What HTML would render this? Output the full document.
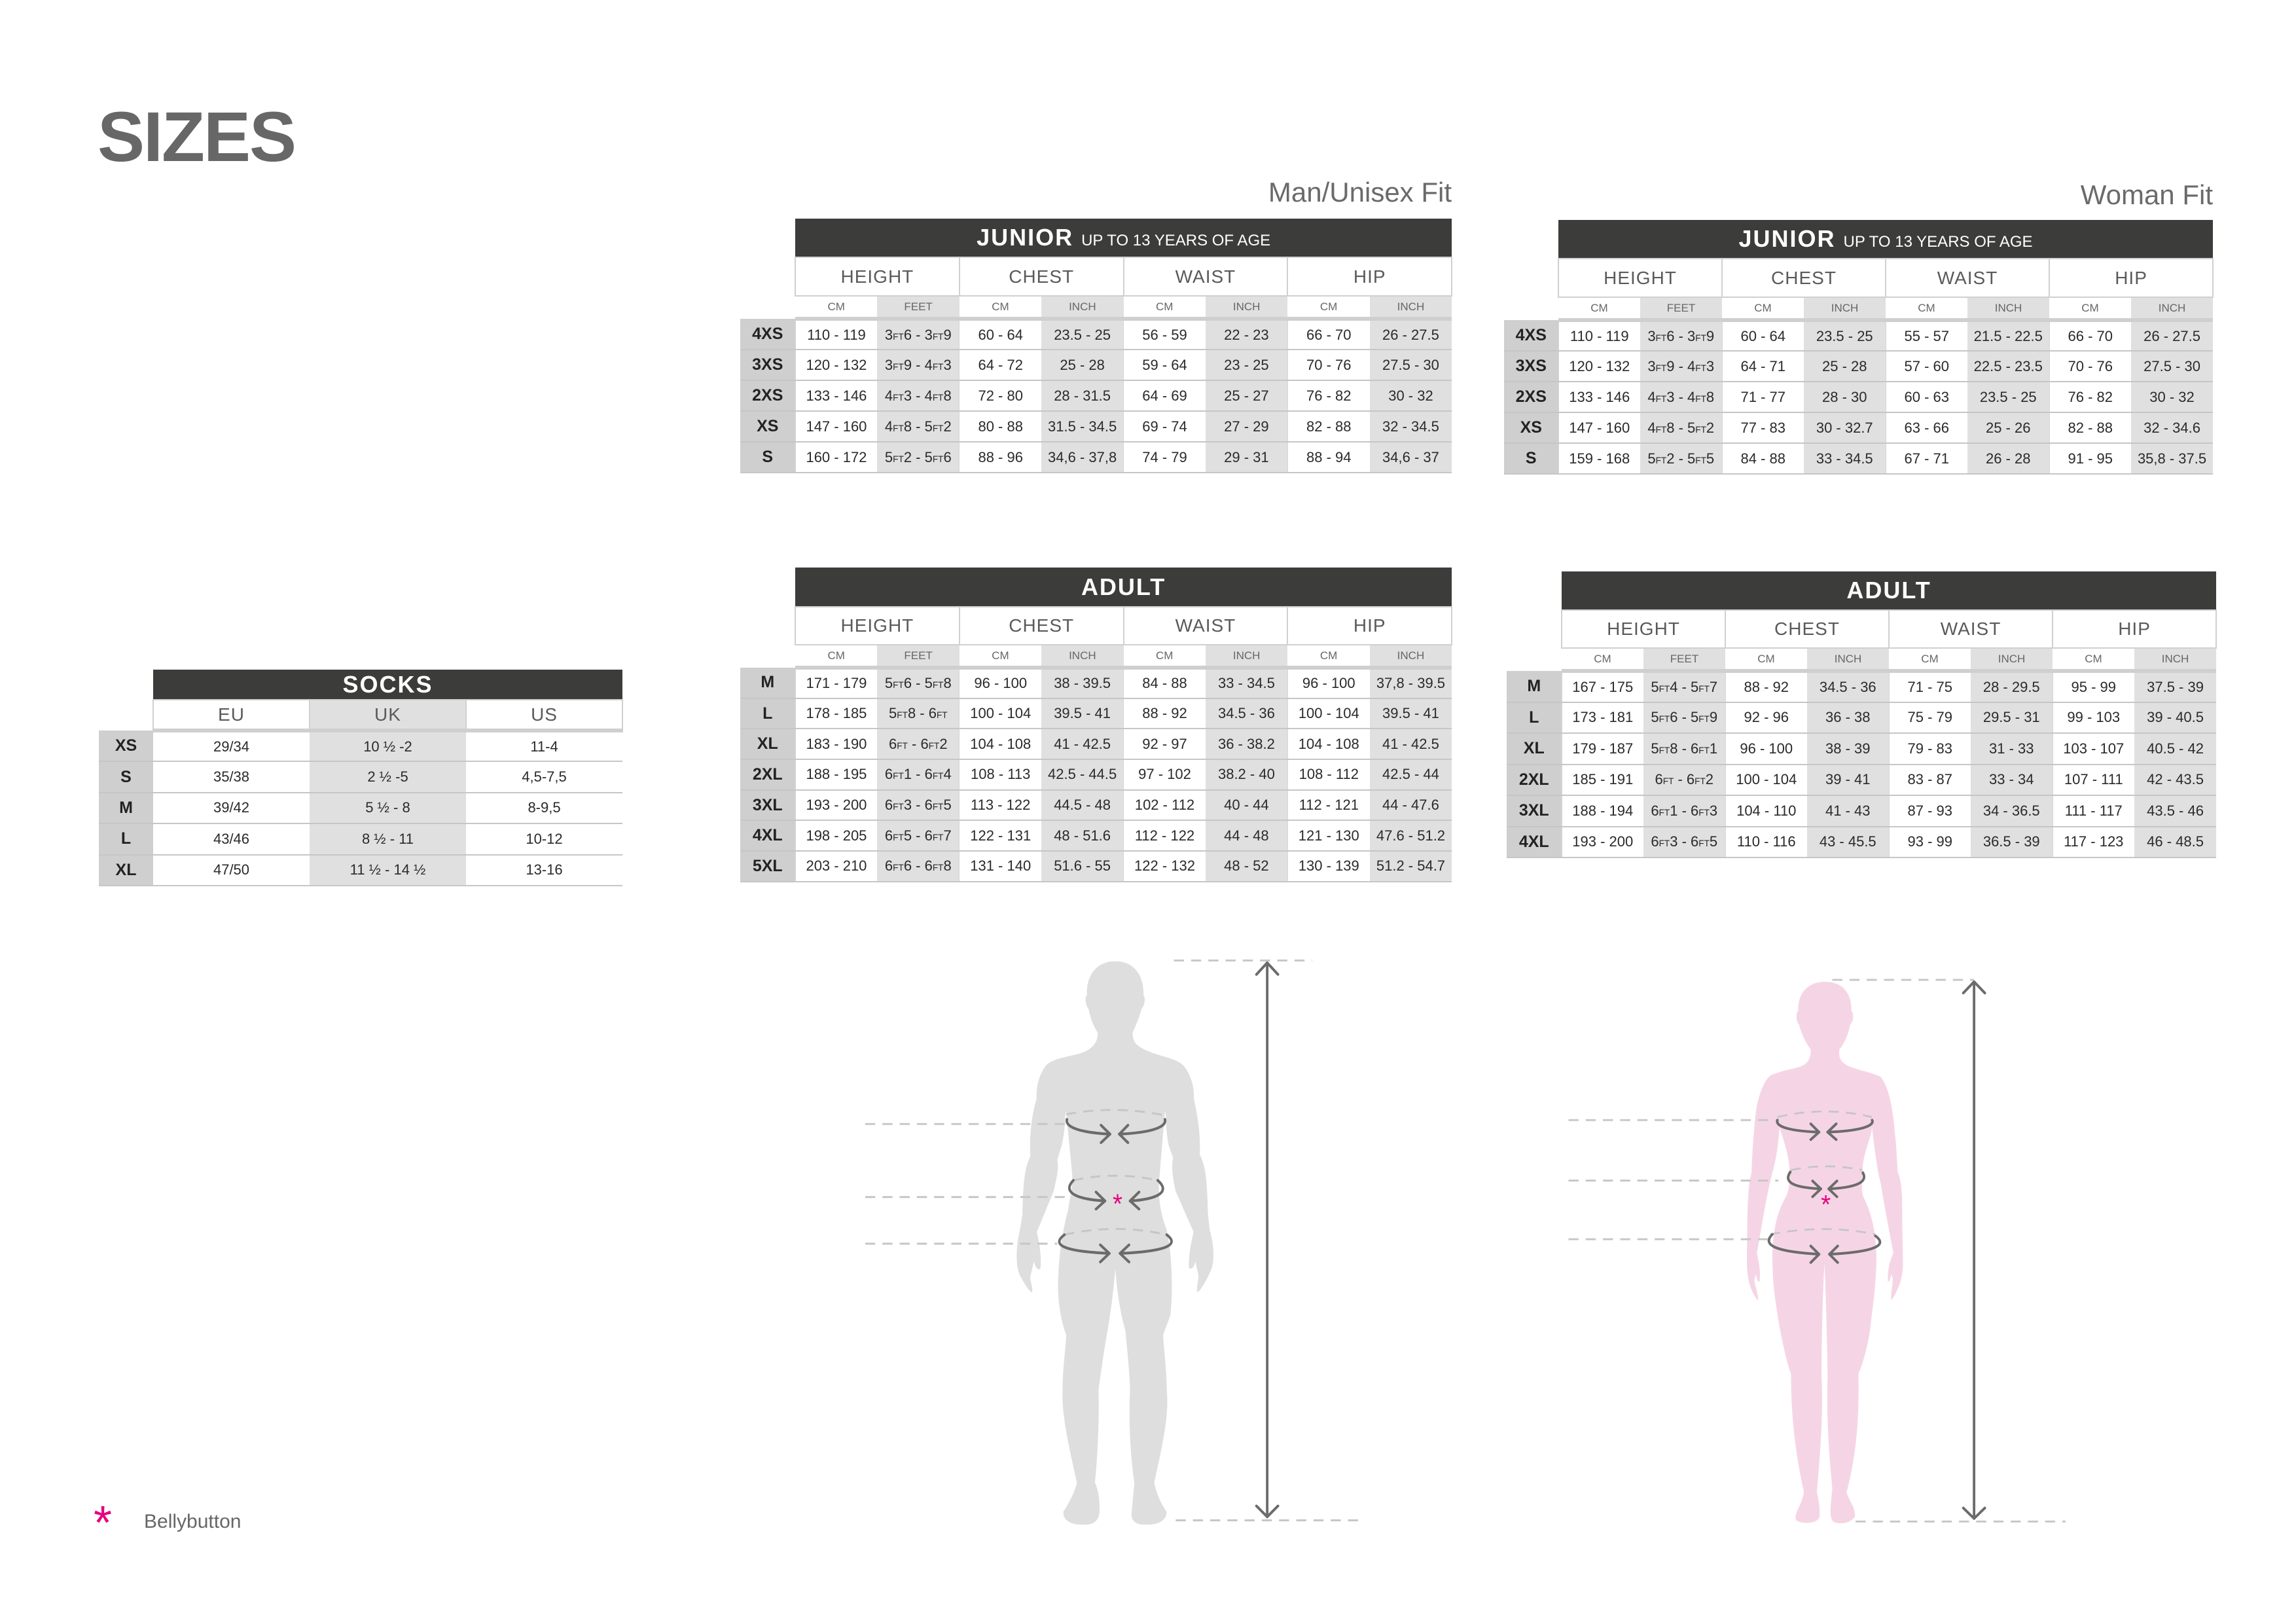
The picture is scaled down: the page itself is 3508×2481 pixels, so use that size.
<!DOCTYPE html>
<html><head><meta charset="utf-8">
<style>
html,body{margin:0;padding:0;background:#fff;}
body{width:3508px;height:2481px;position:relative;overflow:hidden;font-family:"Liberation Sans",sans-serif;}
.abs{position:absolute;}
table.t{position:absolute;border-collapse:collapse;table-layout:fixed;font-family:"Liberation Sans",sans-serif;}
table.t td{padding:0;text-align:center;white-space:nowrap;overflow:hidden;}
td.ttl{background:#3c3c3b;color:#fff;font-weight:bold;font-size:36px;letter-spacing:2px;}
td.ttl span{font-weight:normal;font-size:24px;letter-spacing:0;}
tr.c td.x{font-size:28px;color:#5a5a5a;border:2px solid #d0d0d0;background:#fff;letter-spacing:1px;}
tr.s td.x{font-size:17px;color:#666;background:#fff;border-bottom:6px solid #cfcfcf;}
tr.s td.x.g{background:#e0e0e0;}
tr.d td{font-size:22px;color:#2a2a2a;background:#fff;border-bottom:2px solid #c6c6c6;}
tr.d td.g{background:#e0e0e0;}
tr.d td.z{background:#cfcfcf;font-weight:bold;font-size:25px;color:#222;}
tr.d td.x{border-left:1px solid #d6d6d6;}
small{font-size:0.62em;}
.fit{position:absolute;color:#6a6a6a;font-size:42px;}
</style></head><body>

<div class="abs" style="left:149px;top:146px;font-size:108px;font-weight:bold;color:#676767;letter-spacing:-2px;">SIZES</div>
<div class="fit" style="right:1290px;top:270px;">Man/Unisex Fit</div>
<div class="fit" style="right:127px;top:274px;">Woman Fit</div>

<!-- MAN JUNIOR -->
<table class="t" style="left:1131px;top:334px;width:1087px;">
<colgroup><col style="width:84px"><col span="8" style="width:125.4px"></colgroup>
<tr style="height:59px"><td></td><td class="ttl" colspan="8">JUNIOR <span>UP TO 13 YEARS OF AGE</span></td></tr>
<tr class="c" style="height:59px"><td></td><td class="x" colspan="2">HEIGHT</td><td class="x" colspan="2">CHEST</td><td class="x" colspan="2">WAIST</td><td class="x" colspan="2">HIP</td></tr>
<tr class="s" style="height:35px"><td></td><td class="x">CM</td><td class="x g">FEET</td><td class="x">CM</td><td class="x g">INCH</td><td class="x">CM</td><td class="x g">INCH</td><td class="x">CM</td><td class="x g">INCH</td></tr>
<tr class="d" style="height:47px"><td class="z">4XS</td><td class="x">110 - 119</td><td class="g">3<small>FT</small>6 - 3<small>FT</small>9</td><td class="x">60 - 64</td><td class="g">23.5 - 25</td><td class="x">56 - 59</td><td class="g">22 - 23</td><td class="x">66 - 70</td><td class="g">26 - 27.5</td></tr>
<tr class="d" style="height:47px"><td class="z">3XS</td><td class="x">120 - 132</td><td class="g">3<small>FT</small>9 - 4<small>FT</small>3</td><td class="x">64 - 72</td><td class="g">25 - 28</td><td class="x">59 - 64</td><td class="g">23 - 25</td><td class="x">70 - 76</td><td class="g">27.5 - 30</td></tr>
<tr class="d" style="height:47px"><td class="z">2XS</td><td class="x">133 - 146</td><td class="g">4<small>FT</small>3 - 4<small>FT</small>8</td><td class="x">72 - 80</td><td class="g">28 - 31.5</td><td class="x">64 - 69</td><td class="g">25 - 27</td><td class="x">76 - 82</td><td class="g">30 - 32</td></tr>
<tr class="d" style="height:47px"><td class="z">XS</td><td class="x">147 - 160</td><td class="g">4<small>FT</small>8 - 5<small>FT</small>2</td><td class="x">80 - 88</td><td class="g">31.5 - 34.5</td><td class="x">69 - 74</td><td class="g">27 - 29</td><td class="x">82 - 88</td><td class="g">32 - 34.5</td></tr>
<tr class="d" style="height:47px"><td class="z">S</td><td class="x">160 - 172</td><td class="g">5<small>FT</small>2 - 5<small>FT</small>6</td><td class="x">88 - 96</td><td class="g">34,6 - 37,8</td><td class="x">74 - 79</td><td class="g">29 - 31</td><td class="x">88 - 94</td><td class="g">34,6 - 37</td></tr>
</table>

<!-- WOMAN JUNIOR -->
<table class="t" style="left:2298px;top:336px;width:1083px;">
<colgroup><col style="width:83px"><col span="8" style="width:125px"></colgroup>
<tr style="height:59px"><td></td><td class="ttl" colspan="8">JUNIOR <span>UP TO 13 YEARS OF AGE</span></td></tr>
<tr class="c" style="height:59px"><td></td><td class="x" colspan="2">HEIGHT</td><td class="x" colspan="2">CHEST</td><td class="x" colspan="2">WAIST</td><td class="x" colspan="2">HIP</td></tr>
<tr class="s" style="height:35px"><td></td><td class="x">CM</td><td class="x g">FEET</td><td class="x">CM</td><td class="x g">INCH</td><td class="x">CM</td><td class="x g">INCH</td><td class="x">CM</td><td class="x g">INCH</td></tr>
<tr class="d" style="height:47px"><td class="z">4XS</td><td class="x">110 - 119</td><td class="g">3<small>FT</small>6 - 3<small>FT</small>9</td><td class="x">60 - 64</td><td class="g">23.5 - 25</td><td class="x">55 - 57</td><td class="g">21.5 - 22.5</td><td class="x">66 - 70</td><td class="g">26 - 27.5</td></tr>
<tr class="d" style="height:47px"><td class="z">3XS</td><td class="x">120 - 132</td><td class="g">3<small>FT</small>9 - 4<small>FT</small>3</td><td class="x">64 - 71</td><td class="g">25 - 28</td><td class="x">57 - 60</td><td class="g">22.5 - 23.5</td><td class="x">70 - 76</td><td class="g">27.5 - 30</td></tr>
<tr class="d" style="height:47px"><td class="z">2XS</td><td class="x">133 - 146</td><td class="g">4<small>FT</small>3 - 4<small>FT</small>8</td><td class="x">71 - 77</td><td class="g">28 - 30</td><td class="x">60 - 63</td><td class="g">23.5 - 25</td><td class="x">76 - 82</td><td class="g">30 - 32</td></tr>
<tr class="d" style="height:47px"><td class="z">XS</td><td class="x">147 - 160</td><td class="g">4<small>FT</small>8 - 5<small>FT</small>2</td><td class="x">77 - 83</td><td class="g">30 - 32.7</td><td class="x">63 - 66</td><td class="g">25 - 26</td><td class="x">82 - 88</td><td class="g">32 - 34.6</td></tr>
<tr class="d" style="height:47px"><td class="z">S</td><td class="x">159 - 168</td><td class="g">5<small>FT</small>2 - 5<small>FT</small>5</td><td class="x">84 - 88</td><td class="g">33 - 34.5</td><td class="x">67 - 71</td><td class="g">26 - 28</td><td class="x">91 - 95</td><td class="g">35,8 - 37.5</td></tr>
</table>

<!-- MAN ADULT -->
<table class="t" style="left:1131px;top:867px;width:1087px;">
<colgroup><col style="width:84px"><col span="8" style="width:125.4px"></colgroup>
<tr style="height:60px"><td></td><td class="ttl" colspan="8">ADULT</td></tr>
<tr class="c" style="height:58px"><td></td><td class="x" colspan="2">HEIGHT</td><td class="x" colspan="2">CHEST</td><td class="x" colspan="2">WAIST</td><td class="x" colspan="2">HIP</td></tr>
<tr class="s" style="height:35px"><td></td><td class="x">CM</td><td class="x g">FEET</td><td class="x">CM</td><td class="x g">INCH</td><td class="x">CM</td><td class="x g">INCH</td><td class="x">CM</td><td class="x g">INCH</td></tr>
<tr class="d" style="height:46.7px"><td class="z">M</td><td class="x">171 - 179</td><td class="g">5<small>FT</small>6 - 5<small>FT</small>8</td><td class="x">96 - 100</td><td class="g">38 - 39.5</td><td class="x">84 - 88</td><td class="g">33 - 34.5</td><td class="x">96 - 100</td><td class="g">37,8 - 39.5</td></tr>
<tr class="d" style="height:46.7px"><td class="z">L</td><td class="x">178 - 185</td><td class="g">5<small>FT</small>8 - 6<small>FT</small></td><td class="x">100 - 104</td><td class="g">39.5 - 41</td><td class="x">88 - 92</td><td class="g">34.5 - 36</td><td class="x">100 - 104</td><td class="g">39.5 - 41</td></tr>
<tr class="d" style="height:46.7px"><td class="z">XL</td><td class="x">183 - 190</td><td class="g">6<small>FT</small> - 6<small>FT</small>2</td><td class="x">104 - 108</td><td class="g">41 - 42.5</td><td class="x">92 - 97</td><td class="g">36 - 38.2</td><td class="x">104 - 108</td><td class="g">41 - 42.5</td></tr>
<tr class="d" style="height:46.7px"><td class="z">2XL</td><td class="x">188 - 195</td><td class="g">6<small>FT</small>1 - 6<small>FT</small>4</td><td class="x">108 - 113</td><td class="g">42.5 - 44.5</td><td class="x">97 - 102</td><td class="g">38.2 - 40</td><td class="x">108 - 112</td><td class="g">42.5 - 44</td></tr>
<tr class="d" style="height:46.7px"><td class="z">3XL</td><td class="x">193 - 200</td><td class="g">6<small>FT</small>3 - 6<small>FT</small>5</td><td class="x">113 - 122</td><td class="g">44.5 - 48</td><td class="x">102 - 112</td><td class="g">40 - 44</td><td class="x">112 - 121</td><td class="g">44 - 47.6</td></tr>
<tr class="d" style="height:46.7px"><td class="z">4XL</td><td class="x">198 - 205</td><td class="g">6<small>FT</small>5 - 6<small>FT</small>7</td><td class="x">122 - 131</td><td class="g">48 - 51.6</td><td class="x">112 - 122</td><td class="g">44 - 48</td><td class="x">121 - 130</td><td class="g">47.6 - 51.2</td></tr>
<tr class="d" style="height:46.7px"><td class="z">5XL</td><td class="x">203 - 210</td><td class="g">6<small>FT</small>6 - 6<small>FT</small>8</td><td class="x">131 - 140</td><td class="g">51.6 - 55</td><td class="x">122 - 132</td><td class="g">48 - 52</td><td class="x">130 - 139</td><td class="g">51.2 - 54.7</td></tr>
</table>

<!-- WOMAN ADULT -->
<table class="t" style="left:2302px;top:873px;width:1084px;">
<colgroup><col style="width:84px"><col span="8" style="width:125px"></colgroup>
<tr style="height:59px"><td></td><td class="ttl" colspan="8">ADULT</td></tr>
<tr class="c" style="height:58px"><td></td><td class="x" colspan="2">HEIGHT</td><td class="x" colspan="2">CHEST</td><td class="x" colspan="2">WAIST</td><td class="x" colspan="2">HIP</td></tr>
<tr class="s" style="height:35px"><td></td><td class="x">CM</td><td class="x g">FEET</td><td class="x">CM</td><td class="x g">INCH</td><td class="x">CM</td><td class="x g">INCH</td><td class="x">CM</td><td class="x g">INCH</td></tr>
<tr class="d" style="height:47.5px"><td class="z">M</td><td class="x">167 - 175</td><td class="g">5<small>FT</small>4 - 5<small>FT</small>7</td><td class="x">88 - 92</td><td class="g">34.5 - 36</td><td class="x">71 - 75</td><td class="g">28 - 29.5</td><td class="x">95 - 99</td><td class="g">37.5 - 39</td></tr>
<tr class="d" style="height:47.5px"><td class="z">L</td><td class="x">173 - 181</td><td class="g">5<small>FT</small>6 - 5<small>FT</small>9</td><td class="x">92 - 96</td><td class="g">36 - 38</td><td class="x">75 - 79</td><td class="g">29.5 - 31</td><td class="x">99 - 103</td><td class="g">39 - 40.5</td></tr>
<tr class="d" style="height:47.5px"><td class="z">XL</td><td class="x">179 - 187</td><td class="g">5<small>FT</small>8 - 6<small>FT</small>1</td><td class="x">96 - 100</td><td class="g">38 - 39</td><td class="x">79 - 83</td><td class="g">31 - 33</td><td class="x">103 - 107</td><td class="g">40.5 - 42</td></tr>
<tr class="d" style="height:47.5px"><td class="z">2XL</td><td class="x">185 - 191</td><td class="g">6<small>FT</small> - 6<small>FT</small>2</td><td class="x">100 - 104</td><td class="g">39 - 41</td><td class="x">83 - 87</td><td class="g">33 - 34</td><td class="x">107 - 111</td><td class="g">42 - 43.5</td></tr>
<tr class="d" style="height:47.5px"><td class="z">3XL</td><td class="x">188 - 194</td><td class="g">6<small>FT</small>1 - 6<small>FT</small>3</td><td class="x">104 - 110</td><td class="g">41 - 43</td><td class="x">87 - 93</td><td class="g">34 - 36.5</td><td class="x">111 - 117</td><td class="g">43.5 - 46</td></tr>
<tr class="d" style="height:47.5px"><td class="z">4XL</td><td class="x">193 - 200</td><td class="g">6<small>FT</small>3 - 6<small>FT</small>5</td><td class="x">110 - 116</td><td class="g">43 - 45.5</td><td class="x">93 - 99</td><td class="g">36.5 - 39</td><td class="x">117 - 123</td><td class="g">46 - 48.5</td></tr>
</table>

<!-- SOCKS -->
<table class="t" style="left:151px;top:1023px;width:800px;">
<colgroup><col style="width:83px"><col span="3" style="width:239px"></colgroup>
<tr style="height:46px"><td></td><td class="ttl" colspan="3">SOCKS</td></tr>
<tr class="c" style="height:47px"><td></td><td class="x" style="border-bottom:6px solid #cfcfcf">EU</td><td class="x" style="background:#e0e0e0;border-bottom:6px solid #cfcfcf">UK</td><td class="x" style="border-bottom:6px solid #cfcfcf">US</td></tr>
<tr class="d" style="height:47.4px"><td class="z">XS</td><td>29/34</td><td class="g">10 ½ -2</td><td>11-4</td></tr>
<tr class="d" style="height:47.4px"><td class="z">S</td><td>35/38</td><td class="g">2 ½ -5</td><td>4,5-7,5</td></tr>
<tr class="d" style="height:47.4px"><td class="z">M</td><td>39/42</td><td class="g">5 ½ - 8</td><td>8-9,5</td></tr>
<tr class="d" style="height:47.4px"><td class="z">L</td><td>43/46</td><td class="g">8 ½ - 11</td><td>10-12</td></tr>
<tr class="d" style="height:47.4px"><td class="z">XL</td><td>47/50</td><td class="g">11 ½ - 14 ½</td><td>13-16</td></tr>
</table>

<!-- MAN FIGURE -->
<svg class="abs" style="left:1300px;top:1440px;" width="850" height="920" viewBox="0 0 1550 1550" preserveAspectRatio="none">
<path fill="#dedede" d="M737,48 C800,48 818,100 815,135 C822,140 818,165 810,170 C800,205 790,220 785,232 C785,260 800,268 830,280 C870,295 905,298 925,315 C950,340 958,380 955,400 C965,440 975,490 972,545 C990,580 992,610 995,700 L1000,740 C1015,790 1012,830 1000,850 C985,880 970,900 965,900 C962,885 970,870 968,855 L960,820 C955,840 948,840 942,838 C940,810 948,770 955,745 L905,640 C895,600 893,570 898,555 L885,520 C875,470 880,440 875,435 L860,600 C855,650 860,690 880,740 C895,800 898,900 890,960 L870,1010 C872,1050 880,1100 880,1150 C885,1200 880,1250 845,1390 C850,1410 860,1440 880,1465 C880,1490 850,1500 820,1498 C800,1500 780,1490 782,1470 L790,1390 C775,1300 775,1200 778,1150 C776,1100 770,1050 765,1000 C745,930 740,880 737,838 C733,880 728,930 715,1000 C705,1050 698,1100 690,1150 C692,1200 690,1300 680,1390 C690,1410 695,1440 692,1470 C690,1490 670,1500 650,1498 C620,1500 590,1490 592,1465 C610,1440 625,1410 630,1390 C595,1250 588,1200 590,1150 C590,1100 598,1050 600,1010 C580,960 575,900 578,860 C580,800 590,740 605,690 C612,650 617,630 617,600 L600,435 C595,440 600,470 588,520 L575,560 C580,580 575,600 565,640 L518,745 C525,770 532,810 528,840 C522,842 515,840 510,820 L500,860 C498,870 508,885 505,900 C498,900 485,880 470,855 C460,830 458,790 472,735 L478,700 C480,610 485,580 500,550 C497,490 505,440 518,400 C515,380 522,340 545,315 C565,298 600,295 640,285 C670,275 688,260 688,232 C680,220 670,205 662,170 C655,165 650,140 658,135 C655,100 673,48 737,48 Z"/>
<g fill="none" stroke="#c6c6c6" stroke-width="5" stroke-dasharray="28 20">
<path d="M900,46 H1285"/><path d="M905,1487 H1420"/>
<path d="M40,467 H600"/><path d="M40,655 H600"/><path d="M40,775 H575"/>
<path d="M600,442 Q737,418 875,445"/><path d="M620,612 Q737,588 855,612"/><path d="M595,752 Q737,722 880,752"/>
</g>
<g fill="none" stroke="#6b6b6b" stroke-width="7" stroke-linecap="round" stroke-linejoin="round">
<path d="M1160,52 V1478"/><path d="M1130,82 L1160,52 L1190,82"/><path d="M1130,1450 L1160,1478 L1190,1450"/>
<path d="M602,455 C595,480 660,490 722,493"/><path d="M697,470 L722,493 L697,515"/>
<path d="M875,455 C882,480 815,490 748,493"/><path d="M772,470 L748,493 L772,515"/>
<path d="M620,612 C590,640 620,660 708,665"/><path d="M683,642 L708,665 L683,686"/>
<path d="M855,612 C890,640 860,660 778,665"/><path d="M803,642 L778,665 L803,686"/>
<path d="M595,752 C555,780 600,795 720,800"/><path d="M695,778 L720,800 L695,822"/>
<path d="M880,752 C920,780 870,795 750,800"/><path d="M775,778 L750,800 L775,822"/>
</g>
<text x="743" y="697" font-family="Liberation Sans,sans-serif" font-size="70" fill="#e6007e" text-anchor="middle">*</text>
</svg>

<!-- WOMAN FIGURE -->
<svg class="abs" style="left:2380px;top:1470px;" width="850" height="890" viewBox="0 0 1550 1550" preserveAspectRatio="none">
<path fill="#f5d5e5" d="M745,52 C800,52 820,90 818,130 C826,135 824,160 815,165 C810,195 795,220 785,232 C780,258 795,272 820,280 C850,290 880,295 900,305 C925,335 935,400 940,460 C945,500 945,540 948,560 C960,590 960,620 960,700 L962,800 C962,840 950,870 930,900 C926,880 935,860 933,840 L930,830 C925,850 922,850 920,850 C918,820 925,795 935,775 C925,720 910,650 900,590 L893,560 C886,520 880,480 876,440 C872,470 855,500 850,540 C848,580 845,610 852,625 C870,660 885,700 888,780 C888,850 880,900 870,980 C860,1040 845,1080 838,1095 C840,1200 835,1300 805,1410 C810,1430 830,1450 828,1475 C815,1495 785,1495 770,1490 C755,1480 760,1450 765,1400 C755,1300 748,1200 752,1100 C750,1000 748,900 743,800 C738,900 735,1000 735,1100 C740,1200 732,1300 722,1410 C730,1440 732,1470 728,1480 C715,1495 680,1495 665,1485 C655,1470 680,1445 686,1410 C660,1300 650,1200 650,1095 C640,1070 630,1030 620,980 C605,900 598,850 598,780 C600,700 615,660 635,625 C645,610 648,580 645,540 C640,500 628,470 618,440 C615,480 610,520 598,560 L588,600 C575,660 565,720 555,775 C560,795 566,820 562,850 C558,850 555,845 552,830 L548,845 C548,860 560,880 558,900 C540,880 528,850 527,800 L528,700 C530,620 532,590 540,560 C542,500 548,420 555,380 C565,340 578,310 595,300 C620,290 650,285 675,278 C700,270 705,252 705,232 C695,220 680,195 672,165 C665,160 662,135 670,130 C668,90 690,52 745,52 Z"/>
<g fill="none" stroke="#c6c6c6" stroke-width="5" stroke-dasharray="28 20">
<path d="M765,47 H1160"/><path d="M830,1488 H1415"/>
<path d="M30,420 H605"/><path d="M30,581 H615"/><path d="M30,737 H585"/>
<path d="M612,412 Q745,382 875,412"/><path d="M650,553 Q750,533 848,553"/><path d="M592,724 Q745,696 885,724"/>
</g>
<g fill="none" stroke="#6b6b6b" stroke-width="7" stroke-linecap="round" stroke-linejoin="round">
<path d="M1160,52 V1480"/><path d="M1130,82 L1160,52 L1190,82"/><path d="M1130,1452 L1160,1480 L1190,1452"/>
<path d="M612,420 C605,440 660,450 728,452"/><path d="M705,430 L728,452 L705,472"/>
<path d="M876,420 C885,440 820,450 752,452"/><path d="M776,430 L752,452 L776,472"/>
<path d="M648,558 C625,590 670,600 733,603"/><path d="M710,582 L733,603 L710,624"/>
<path d="M850,560 C868,590 815,600 755,603"/><path d="M778,582 L755,603 L778,624"/>
<path d="M598,724 C560,760 640,772 728,777"/><path d="M705,755 L728,777 L705,799"/>
<path d="M885,728 C930,760 850,772 757,777"/><path d="M780,755 L757,777 L780,799"/>
</g>
<text x="747" y="668" font-family="Liberation Sans,sans-serif" font-size="70" fill="#e6007e" text-anchor="middle">*</text>
</svg>

<div class="abs" style="left:143px;top:2291px;font-size:72px;color:#e6007e;line-height:1;">*</div>
<div class="abs" style="left:220px;top:2308px;font-size:30px;color:#666;">Bellybutton</div>

</body></html>
